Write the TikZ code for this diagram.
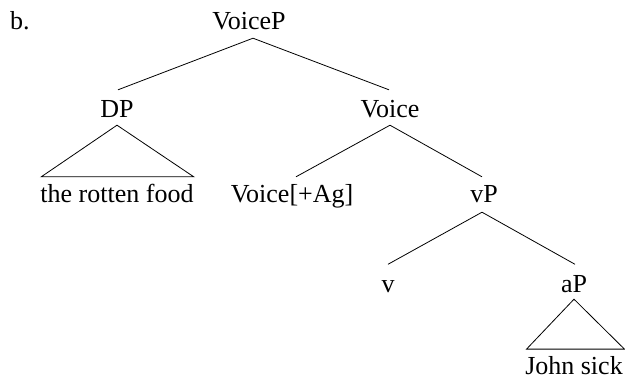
\documentclass[tikz,border=0pt]{standalone}
\usepackage{fontspec}
\setmainfont{Liberation Serif}
\begin{document}
\begin{tikzpicture}[x=1pt,y=-1pt,
  lab/.style={anchor=base, inner sep=0pt, text height=17.2pt, text depth=0pt, font=\fontsize{26}{30}\selectfont},
  edge/.style={line width=0.8pt}]
\useasboundingbox (0,0) rectangle (625,378);
\node[lab, anchor=base west] (b) at (10,29) {b.};
\node[lab] (VP) at (249,29) {VoiceP};
\node[lab] (DP) at (117,117) {DP};
\node[lab] (V) at (390,117) {Voice};
\node[lab] (food) at (117,202.5) {the rotten food};
\node[lab] (VAg) at (292,202.5) {Voice[+Ag]};
\node[lab] (vP) at (484,202.5) {vP};
\node[lab] (v) at (388,292) {v};
\node[lab] (aP) at (574,292) {aP};
\node[lab] (John) at (574,374.5) {John sick};
% VoiceP
\draw[edge] ([xshift=4pt,yshift=-9pt]VP.south) -- ([xshift=1pt,yshift=9.8pt]DP.north);
\draw[edge] ([xshift=4pt,yshift=-9pt]VP.south) -- ([xshift=-1pt,yshift=9.8pt]V.north);
% DP triangle
\draw[edge] ([yshift=-8pt]DP.south) -- ([xshift=1pt,yshift=8.3pt]food.north west) -- ([yshift=8.3pt]food.north east) -- cycle;
% Voice
\draw[edge] ([yshift=-8pt]V.south) -- ([xshift=4pt,yshift=8.3pt]VAg.north);
\draw[edge] ([yshift=-8pt]V.south) -- ([xshift=-2pt,yshift=8.3pt]vP.north);
% vP
\draw[edge] ([xshift=-2pt,yshift=-9.5pt]vP.south) -- ([yshift=10.3pt]v.north);
\draw[edge] ([xshift=-2pt,yshift=-9.5pt]vP.south) -- ([xshift=1pt,yshift=10.3pt]aP.north);
% aP triangle
\draw[edge] ([yshift=-7pt]aP.south) -- ([xshift=1.5pt,yshift=8pt]John.north west) -- ([xshift=1.5pt,yshift=8pt]John.north east) -- cycle;
\end{tikzpicture}
\end{document}
